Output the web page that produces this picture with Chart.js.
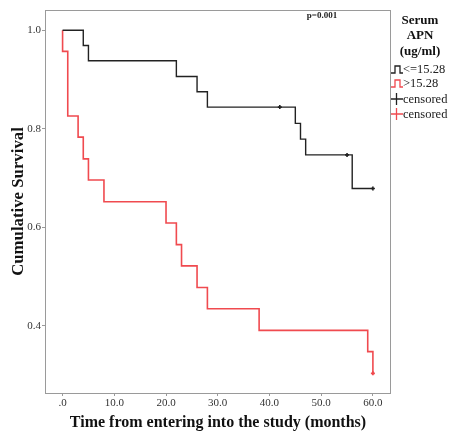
<!DOCTYPE html>
<html>
<head>
<meta charset="utf-8">
<script src="https://cdn.jsdelivr.net/npm/chart.js@4"></script>
<style>
  body { margin: 0; background: #fff; }
</style>
</head>
<body>
<canvas id="kmChart" width="454" height="432"></canvas>
<script>
// survival steps, group <=15.28
const lowTimes = [0, 4, 5, 22, 26, 28, 45, 46, 47, 56, 60];
const lowSurv = [1.0, 0.969, 0.938, 0.906, 0.875, 0.844, 0.811, 0.779, 0.747, 0.679, 0.679];
const lowCensorTimes = [42, 55, 60];
const lowCensorSurv = [0.844, 0.747, 0.679];

// group >15.28
const highTimes = [0, 0, 1, 3, 4, 5, 8, 20, 22, 23, 26, 28, 38, 59, 60];
const highSurv = [1.0, 0.957, 0.826, 0.783, 0.739, 0.696, 0.652, 0.609, 0.565, 0.522, 0.478, 0.435, 0.391, 0.348, 0.304];
const highCensorTimes = [60];
const highCensorSurv = [0.304];

const xTickValues = [0, 10, 20, 30, 40, 50, 60];
const xTickLabels = ['.0', '10.0', '20.0', '30.0', '40.0', '50.0', '60.0'];
const yTickValues = [0.4, 0.6, 0.8, 1.0];
const yTickLabels = ['0.4', '0.6', '0.8', '1.0'];

const serif = '"Liberation Serif", "Times New Roman", serif';
const black = '#222222';
const red = '#f04a4f';

function pts(xs, ys) {
  return xs.map((x, i) => ({ x: x, y: ys[i] }));
}

// frame, p value and legend are drawn by hand
const extras = {
  id: 'extras',
  afterDraw(chart) {
    const c = chart.ctx;
    const a = chart.chartArea;
    c.save();
    c.strokeStyle = '#9a9a9a';
    c.lineWidth = 1;
    c.strokeRect(a.left + 0.5, a.top + 0.5, a.right - a.left - 1, a.bottom - a.top);

    c.fillStyle = '#222';
    c.font = 'bold 9px ' + serif;
    c.textAlign = 'center';
    c.textBaseline = 'middle';
    c.fillText('p=0.001', 322, 16);

    // legend title
    c.font = 'bold 13px ' + serif;
    c.fillStyle = '#111';
    c.fillText('Serum', 420, 21);
    c.fillText('APN', 420, 36);
    c.fillText('(ug/ml)', 420, 52);

    const rows = [
      { kind: 'step', color: black, text: '<=15.28', y: 69 },
      { kind: 'step', color: red, text: '>15.28', y: 83 },
      { kind: 'cross', color: black, text: 'censored', y: 99 },
      { kind: 'cross', color: red, text: 'censored', y: 114 }
    ];
    c.font = '12.5px ' + serif;
    c.textAlign = 'left';
    rows.forEach(r => {
      c.strokeStyle = r.color;
      c.lineWidth = 1.3;
      c.beginPath();
      if (r.kind === 'step') {
        c.moveTo(391, r.y + 4);
        c.lineTo(395, r.y + 4);
        c.lineTo(395, r.y - 3);
        c.lineTo(400, r.y - 3);
        c.lineTo(400, r.y + 4);
        c.lineTo(403, r.y + 4);
      } else {
        c.moveTo(391, r.y);
        c.lineTo(403, r.y);
        c.moveTo(396.5, r.y - 6);
        c.lineTo(396.5, r.y + 6);
      }
      c.stroke();
      c.fillStyle = '#222';
      c.fillText(r.text, 403, r.y + 1);
    });
    c.restore();
  }
};

const ctx = document.getElementById('kmChart').getContext('2d');

const kmChart = new Chart(ctx, {
  type: 'scatter',
  data: {
    datasets: [
      {
        label: '<=15.28',
        data: pts(lowTimes, lowSurv),
        showLine: true,
        stepped: 'before',
        borderColor: black,
        borderWidth: 1.4,
        pointRadius: 0
      },
      {
        label: '>15.28',
        data: pts(highTimes, highSurv),
        showLine: true,
        stepped: 'before',
        borderColor: red,
        borderWidth: 1.6,
        pointRadius: 0
      },
      {
        label: 'censored',
        data: pts(lowCensorTimes, lowCensorSurv),
        pointStyle: 'cross',
        pointRadius: 2,
        borderColor: black,
        borderWidth: 1.6,
        backgroundColor: black
      },
      {
        label: 'censored',
        data: pts(highCensorTimes, highCensorSurv),
        pointStyle: 'cross',
        pointRadius: 2,
        borderColor: red,
        borderWidth: 1.8,
        backgroundColor: red
      }
    ]
  },
  options: {
    responsive: false,
    animation: false,
    devicePixelRatio: 1,
    layout: { padding: { top: 10, right: 63, left: 0, bottom: 0 } },
    plugins: {
      legend: { display: false },
      tooltip: { enabled: false }
    },
    scales: {
      x: {
        type: 'linear',
        min: -3.4,
        max: 63.5,
        afterBuildTicks: s => { s.ticks = xTickValues.map(v => ({ value: v })); },
        afterFit: s => { s.height = 39; },
        ticks: {
          color: '#333',
          font: { family: serif, size: 11 },
          padding: 1,
          callback: (v) => xTickLabels[xTickValues.indexOf(v)]
        },
        grid: { display: true, drawOnChartArea: false, drawTicks: true, tickLength: 3, color: '#9a9a9a' },
        border: { display: false },
        title: {
          display: true,
          text: 'Time from entering into the study (months)',
          color: '#111',
          font: { family: serif, size: 16, weight: 'bold' },
          padding: { top: 0, bottom: 0 }
        }
      },
      y: {
        type: 'linear',
        min: 0.264,
        max: 1.041,
        afterBuildTicks: s => { s.ticks = yTickValues.map(v => ({ value: v })); },
        afterFit: s => { s.width = 45; },
        ticks: {
          color: '#333',
          font: { family: serif, size: 11 },
          padding: 1,
          callback: (v) => yTickLabels[yTickValues.indexOf(v)]
        },
        grid: { display: true, drawOnChartArea: false, drawTicks: true, tickLength: 3, color: '#9a9a9a' },
        border: { display: false },
        title: {
          display: true,
          text: 'Cumulative Survival',
          color: '#111',
          font: { family: serif, size: 16.8, weight: 'bold' },
          padding: { top: 9, bottom: 0 }
        }
      }
    }
  },
  plugins: [extras]
});
</script>
</body>
</html>
